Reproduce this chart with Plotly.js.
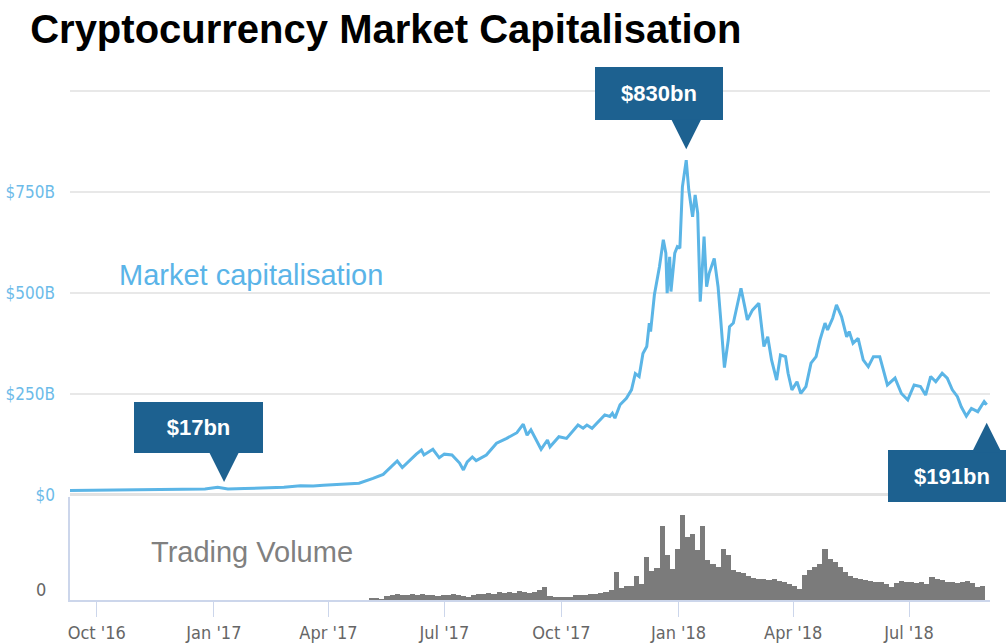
<!DOCTYPE html>
<html><head><meta charset="utf-8">
<script src="https://cdn.plot.ly/plotly-3.0.1.min.js"></script>
<style>html,body{margin:0;padding:0;background:#fff}#chart{width:1006px;height:644px}</style>
</head><body><div id="chart"></div>
<script>
// Market capitalisation ($bn)
const capDates = [
'2016-09-10','2016-09-25','2016-10-10','2016-10-25','2016-11-10','2016-11-25','2016-12-10','2016-12-25',
'2017-01-04','2017-01-09','2017-01-12','2017-01-25','2017-02-10','2017-02-25','2017-03-10','2017-03-20','2017-03-28',
'2017-04-10','2017-04-25','2017-05-06','2017-05-14','2017-05-25','2017-05-29','2017-06-09','2017-06-13','2017-06-15',
'2017-06-22','2017-06-27','2017-07-01','2017-07-07','2017-07-13','2017-07-16','2017-07-19','2017-07-23','2017-07-26',
'2017-08-03','2017-08-11','2017-08-19','2017-08-27','2017-09-01','2017-09-04','2017-09-07','2017-09-10','2017-09-15',
'2017-09-20','2017-09-22','2017-09-29','2017-10-05','2017-10-14','2017-10-18','2017-10-21','2017-10-25','2017-11-04',
'2017-11-08','2017-11-10','2017-11-12','2017-11-16','2017-11-21','2017-11-25','2017-11-28','2017-12-01','2017-12-04',
'2017-12-07','2017-12-09','2017-12-10','2017-12-13','2017-12-17','2017-12-20','2017-12-22','2017-12-23','2017-12-25',
'2017-12-26','2017-12-29','2017-12-31','2018-01-02','2018-01-04','2018-01-07','2018-01-09','2018-01-12','2018-01-14',
'2018-01-16','2018-01-18','2018-01-20','2018-01-21','2018-01-23','2018-01-25','2018-01-29','2018-02-01','2018-02-03',
'2018-02-06','2018-02-09','2018-02-10','2018-02-13','2018-02-17','2018-02-19','2018-02-22','2018-02-24','2018-02-28',
'2018-03-05','2018-03-09','2018-03-12','2018-03-15','2018-03-19','2018-03-22','2018-03-26','2018-03-28','2018-03-31',
'2018-04-04','2018-04-07','2018-04-11','2018-04-15','2018-04-19','2018-04-22','2018-04-26','2018-04-28','2018-05-02',
'2018-05-05','2018-05-09','2018-05-13','2018-05-15','2018-05-18','2018-05-22','2018-05-26','2018-05-30','2018-06-03',
'2018-06-08','2018-06-12','2018-06-14','2018-06-20','2018-06-25','2018-06-30','2018-07-05','2018-07-10','2018-07-14',
'2018-07-18','2018-07-22','2018-07-27','2018-07-31','2018-08-04','2018-08-08','2018-08-11','2018-08-15','2018-08-19',
'2018-08-24','2018-08-29','2018-08-31'];
const capValues = [
11,11.5,12,12.5,13,13,13.5,15,
19,17,15,16,17,19,23,22,24,
27,29,41,51,84,68,101,111,99,
113,92,101,99,79,62,82,94,85,
99,128,140,154,175,148,161,144,113,
136,119,144,140,173,165,173,165,198,
194,202,190,223,239,260,300,293,350,
367,425,404,495,565,631,598,499,589,
503,598,614,610,762,828,754,688,742,
697,478,581,639,515,548,585,515,437,
315,383,416,425,482,511,465,433,457,
474,367,391,334,284,346,342,301,260,
280,251,268,326,342,383,425,408,437,
470,441,391,404,375,387,334,317,342,
342,293,272,289,251,235,272,268,247,
293,280,301,289,260,243,218,195,214,
206,231,223];

// Trading volume ($bn), one bar every 4 days from 5 May 2017
const volStart = '2017-05-05';
const volStepDays = 4;
const volValues = [
1.4,1.4,0.7,2.7,3.4,4.1,3.4,3.4,4.1,3.4,
4.1,3.4,3.4,2.7,3.4,3.4,4.1,3.4,2.7,2.0,
3.4,4.1,4.1,4.8,4.1,5.4,4.8,5.4,4.8,6.1,
5.4,4.8,5.4,6.8,8.8,2.7,2.0,2.0,2.0,2.0,
3.4,3.4,3.4,4.1,4.1,4.8,5.4,6.8,19.0,8.2,
9.5,9.5,16.3,10.9,29.3,19.7,21.8,50.3,30.6,21.1,
34.7,57.8,42.9,44.9,34.0,50.3,27.2,24.5,22.4,34.7,
30.6,20.4,19.0,18.4,16.3,15.0,14.3,14.3,13.6,14.3,
12.9,12.2,10.9,9.5,7.5,17.0,20.4,22.4,24.5,34.7,
27.9,25.9,22.4,19.0,16.3,15.0,14.3,13.6,12.9,12.2,
12.2,10.9,8.8,11.6,12.9,12.2,12.2,11.6,12.2,10.9,
15.6,14.3,13.6,12.2,12.2,11.6,12.2,12.9,11.6,8.8,
9.5];
const volDates = volValues.map((_, i) => {
  const d = new Date(volStart + 'T00:00:00Z');
  d.setUTCDate(d.getUTCDate() + i * volStepDays);
  return d.toISOString().slice(0, 10);
});

const yTickVals = [0, 250, 500, 750, 1000];
const yTickText = ['$0', '$250B', '$500B', '$750B', ''];

const callouts = [
  {label: '$17bn',  date: '2017-01-09', value: 17,  dx: -26, dy: 61,  w: 129, h: 51, up: false, gap: 6,  len: 29},
  {label: '$830bn', date: '2018-01-07', value: 830, dx: -27, dy: 66,  w: 128, h: 53, up: false, gap: 10, len: 29},
  {label: '$191bn', date: '2018-08-31', value: 191, dx: -35, dy: -58, w: 128, h: 52, up: true,  gap: 5,  len: 27}
];

const calloutColor = '#1d6190';
const lineColor = '#5bb5e6';
const narrow = '"Liberation Sans Narrow", "DejaVu Sans Condensed", sans-serif';
const arial = '"Liberation Sans", Arial, sans-serif';

const traces = [
  {x: capDates, y: capValues, type: 'scatter', mode: 'lines', xaxis: 'x', yaxis: 'y',
   line: {color: lineColor, width: 3}, hoverinfo: 'x+y'},
  {x: volDates, y: volValues, type: 'bar', xaxis: 'x', yaxis: 'y2',
   marker: {color: '#7b7b7b', line: {width: 0}}}
];

const annotations = [];
callouts.forEach(c => {
  annotations.push({x: c.date, y: c.value, xref: 'x', yref: 'y', showarrow: false,
    xshift: c.dx, yshift: c.dy, width: c.w, height: c.h, borderpad: 0, borderwidth: 0,
    bgcolor: calloutColor, text: '<b>' + c.label + '</b>',
    font: {family: arial, size: 22, color: '#ffffff'}});
  annotations.push({x: c.date, y: c.value, xref: 'x', yref: 'y', text: '', showarrow: true,
    ax: 0, ay: c.up ? (c.gap + c.len) : -(c.gap + c.len), standoff: c.gap,
    arrowhead: 2, arrowsize: 6, arrowwidth: 1, arrowcolor: calloutColor});
});
annotations.push({xref: 'paper', yref: 'paper', x: 0.051, y: 0.625, xanchor: 'left', yanchor: 'middle',
  showarrow: false, text: 'Market capitalisation', font: {family: arial, size: 29, color: '#5ab4e8'}});
annotations.push({xref: 'paper', yref: 'paper', x: 0.086, y: 0.092, xanchor: 'left', yanchor: 'middle',
  showarrow: false, text: 'Trading Volume', font: {family: arial, size: 29, color: '#808080'}});

const layout = {
  width: 1006, height: 644,
  margin: {l: 70, r: 16, t: 80, b: 44},
  paper_bgcolor: '#ffffff', plot_bgcolor: '#ffffff',
  showlegend: false, bargap: 0,
  title: {text: 'Cryptocurrency Market Capitalisation', xref: 'container', yref: 'container',
    x: 0.03, xanchor: 'left', y: 0.955, yanchor: 'middle',
    font: {family: arial, size: 40, weight: 'bold', color: '#000000'}},
  xaxis: {type: 'date', range: ['2016-09-10', '2018-09-02 14:00'], anchor: 'y2',
    tick0: '2016-10-01', dtick: 'M3', tickformat: "%b '%y",
    ticks: 'outside', ticklen: 15, tickcolor: '#ccd6eb', tickwidth: 1,
    showline: true, linecolor: '#ccd6eb', linewidth: 2, showgrid: false, zeroline: false,
    tickfont: {family: narrow, size: 18, color: '#666666'}},
  yaxis: {domain: [0.2, 1], range: [-2.5, 1026], tickvals: yTickVals, ticktext: yTickText,
    showgrid: true, gridcolor: '#e8e8e8', gridwidth: 2,
    zeroline: true, zerolinecolor: '#e2e2e2', zerolinewidth: 3, showline: false,
    ticks: '', ticklabelstandoff: 14,
    tickfont: {family: narrow, size: 17, color: '#6cbbe9'}},
  yaxis2: {domain: [0, 0.198], range: [0, 70], tickvals: [0], ticktext: ['0'],
    showgrid: false, zeroline: false, showline: true, linecolor: '#ccd6eb', linewidth: 2,
    ticks: '', ticklabelstandoff: 18, ticklabelshift: -10,
    tickfont: {family: narrow, size: 18, color: '#666666'}},
  annotations: annotations
};

Plotly.newPlot('chart', traces, layout, {displayModeBar: false, staticPlot: true});
</script>
</body></html>
